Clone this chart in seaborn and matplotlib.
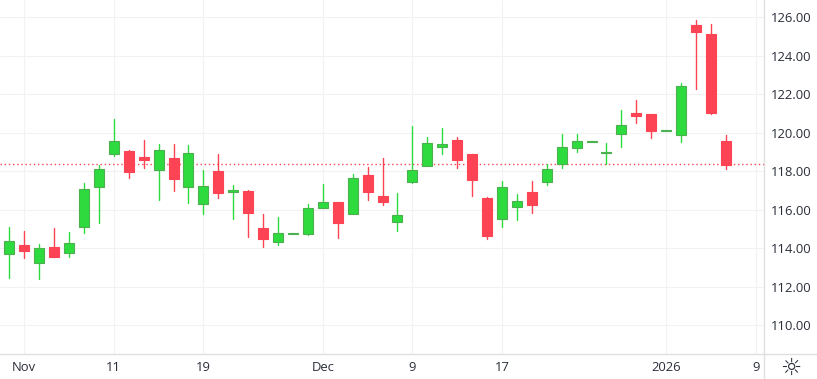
#!/usr/bin/env python3

import matplotlib
matplotlib.use('Agg')
import matplotlib.pyplot as plt
from matplotlib.lines import Line2D
import numpy as np
import pandas as pd
import seaborn as sns


HIGH = [115.10, 114.90, 114.20, 115.04, 114.85, 117.37, 118.33, 120.72, 119.10, 119.63,
        119.42, 119.42, 119.37, 118.07, 118.90, 117.29, 117.03, 115.78, 115.63, 114.78,
        116.30, 117.34, 116.40, 117.86, 118.22, 118.69, 116.87, 120.35, 119.78, 120.25,
        119.78, 118.90, 116.66, 117.50, 116.82, 117.50, 118.38, 119.92, 119.92, 119.56,
        119.47, 121.19, 121.71, 120.98, 120.13, 122.57, 125.86, 125.65, 119.89]
BODY_TOP = [114.36, 114.15, 114.00, 114.07, 114.29, 117.06, 118.10, 119.56, 119.05, 118.74,
            119.09, 118.69, 118.93, 117.22, 118.02, 117.03, 116.98, 115.05, 114.78, 114.78,
            116.08, 116.39, 116.40, 117.63, 117.81, 116.72, 115.71, 118.05, 119.45, 119.40,
            119.63, 118.90, 116.61, 117.17, 116.44, 116.91, 118.10, 119.26, 119.56, 119.56,
            118.99, 120.39, 121.03, 120.98, 120.13, 122.41, 125.60, 125.13, 119.56]
BODY_BOTTOM = [113.72, 113.88, 113.25, 113.57, 113.77, 115.12, 117.20, 118.92, 117.98, 118.59,
               118.09, 117.60, 117.20, 116.32, 116.89, 116.94, 115.83, 114.48, 114.34, 114.74,
               114.76, 116.11, 115.33, 115.80, 116.94, 116.42, 115.38, 117.46, 118.29, 119.28,
               118.59, 117.57, 114.66, 115.54, 116.16, 116.27, 117.46, 118.40, 119.23, 119.52,
               118.95, 119.96, 120.89, 120.09, 120.09, 119.90, 125.24, 121.03, 118.33]
LOW = [112.47, 113.51, 112.42, 113.57, 113.57, 114.81, 115.33, 118.81, 117.67, 118.19,
       116.53, 116.99, 116.37, 115.80, 116.63, 115.54, 114.60, 114.08, 114.19, 114.74,
       114.71, 116.11, 114.55, 115.80, 116.53, 116.27, 114.92, 117.41, 118.29, 118.92,
       118.19, 116.73, 114.50, 115.12, 115.49, 115.85, 117.31, 118.19, 119.02, 119.52,
       118.38, 119.28, 120.51, 119.75, 120.09, 119.54, 122.29, 120.98, 118.12]
IS_UP = [1, 0, 1, 0, 1, 1, 1, 1, 0, 0,
         1, 0, 1, 1, 0, 1, 0, 0, 1, 1,
         1, 1, 0, 1, 0, 0, 1, 1, 1, 1,
         0, 0, 0, 1, 1, 0, 1, 1, 1, 1,
         1, 1, 0, 0, 1, 1, 0, 0, 0]

LAST_PRICE = 118.36
PRICE_TICKS = [110, 112, 114, 116, 118, 120, 122, 124, 126]
TIME_POS = [1, 7, 13, 21, 27, 33, 44, 50]
TIME_LABELS = ['Nov', '11', '19', 'Dec', '9', '17', '2026', '9']

GREEN = '#2edb3e'
GREEN_EDGE = '#4caf50'
RED = '#fc4454'
GRID = '#f2f2f2'
AXIS = '#e0e0e0'
TEXT = '#2a2e39'


def main():
    '''Generates the candlestick chart and saves it'''
    sns.set_theme(style='white')
    plt.rcParams['font.family'] = ['Open Sans', 'DejaVu Sans']

    idx = np.arange(len(HIGH))
    side = ['up' if u else 'down' for u in IS_UP]
    wicks = pd.DataFrame({
        'idx': np.concatenate([idx, idx]),
        'price': LOW + HIGH,
        'side': side + side,
    })

    fig = plt.figure(figsize=(8.17, 3.79), dpi=100)
    ax = fig.add_axes([0, 1 - 354 / 379, 763.5 / 817, 354 / 379])

    ax.grid(True, color=GRID, linewidth=0.8)
    ax.set_axisbelow(True)

    ax.axhline(LAST_PRICE, color=RED, linewidth=1.0, linestyle=(0, (1, 2)), zorder=1.5)

    sns.lineplot(data=wicks, x='idx', y='price', hue='side', units='idx', estimator=None,
                 palette={'up': GREEN, 'down': RED}, linewidth=1.0, legend=False, ax=ax, zorder=2)

    top = np.array(BODY_TOP)
    bottom = np.array(BODY_BOTTOM)
    up = np.array(IS_UP, dtype=bool)
    ax.bar(idx[up], top[up] - bottom[up], bottom=bottom[up], width=0.67,
           color=GREEN, edgecolor=GREEN_EDGE, linewidth=0.8, zorder=3)
    ax.bar(idx[~up], top[~up] - bottom[~up], bottom=bottom[~up], width=0.67,
           color=RED, edgecolor=RED, linewidth=0.8, zorder=3)

    ax.set_xlim(-0.623, 50.516)
    ax.set_ylim(108.51, 126.9)
    ax.set_xticks(TIME_POS)
    ax.set_xticklabels(TIME_LABELS)
    ax.set_yticks(PRICE_TICKS)
    ax.set_yticklabels([f'{p:.2f}' for p in PRICE_TICKS])
    ax.yaxis.tick_right()
    ax.tick_params(axis='both', length=0, labelsize=9.4, colors=TEXT)
    ax.tick_params(axis='x', pad=5)
    ax.tick_params(axis='y', pad=5.3)
    ax.set_xlabel('')
    ax.set_ylabel('')
    for spine in ax.spines.values():
        spine.set_visible(False)

    fig.add_artist(Line2D([0, 1], [1 - 354 / 379] * 2, color=AXIS, linewidth=1.0))
    fig.add_artist(Line2D([763.5 / 817] * 2, [0, 1], color=AXIS, linewidth=1.0))
    fig.text(791 / 817, 1 - 368 / 379, '\u263c', family='DejaVu Sans', fontsize=17,
             color=TEXT, ha='center', va='center')

    fig.savefig('out.png', dpi=100, facecolor='white')


if __name__ == '__main__':
    main()
